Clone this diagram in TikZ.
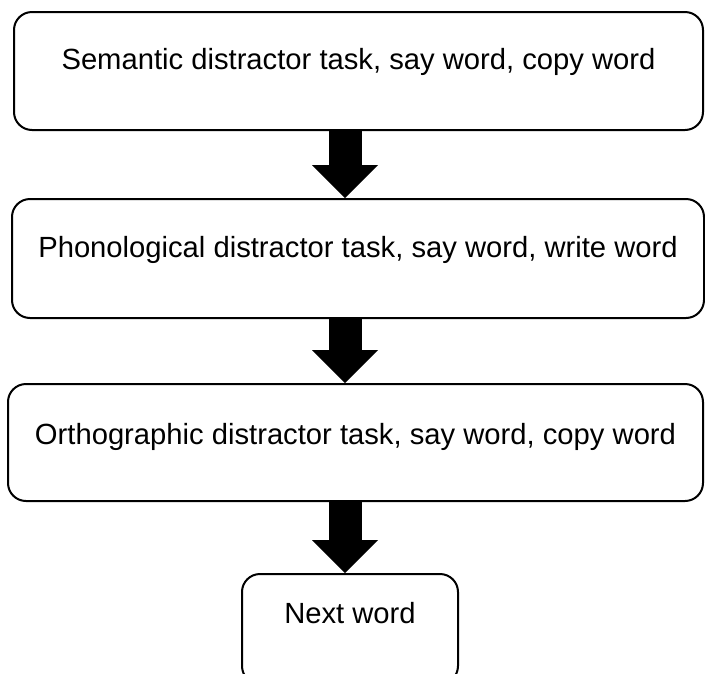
\documentclass[tikz,border=0pt]{standalone}
\usepackage{fontspec}
\setmainfont{Liberation Sans}
\usetikzlibrary{arrows.meta,calc}
\begin{document}
\begin{tikzpicture}[x=1pt,y=-1pt,
  box/.style={draw, line width=2pt, rounded corners=18pt, inner xsep=0pt, inner ysep=0pt,
    align=center, font=\fontsize{29.2}{35}\selectfont},
  bigarrow/.style={line width=33pt, -{Triangle[width=66pt,length=33pt,line width=0pt]}}]
\useasboundingbox (0,0) rectangle (705,673);
\clip (0,0) rectangle (705,673);
\node[box, minimum width=689pt, text height=57pt, text depth=61pt] (b1) at (358.5,71)
  {Semantic distractor task, say word, copy word};
\node[box, minimum width=692pt, text height=58pt, text depth=61pt] (b2) at (358,258.5)
  {Phonological distractor task, say word, write word};
\node[box, minimum width=695pt, text height=60pt, text depth=57pt] (b3) at (355.5,442.5)
  {Orthographic distractor task, say word, copy word};
\node[box, minimum width=216pt, text height=49pt, text depth=61pt] (b4) at (350,629)
  {Next word};
\coordinate (ax) at (345,0);
\draw[bigarrow] (b1.south -| ax) -- (b2.north -| ax);
\draw[bigarrow] (b2.south -| ax) -- (b3.north -| ax);
\draw[bigarrow] (b3.south -| ax) -- (b4.north -| ax);
\end{tikzpicture}
\end{document}
